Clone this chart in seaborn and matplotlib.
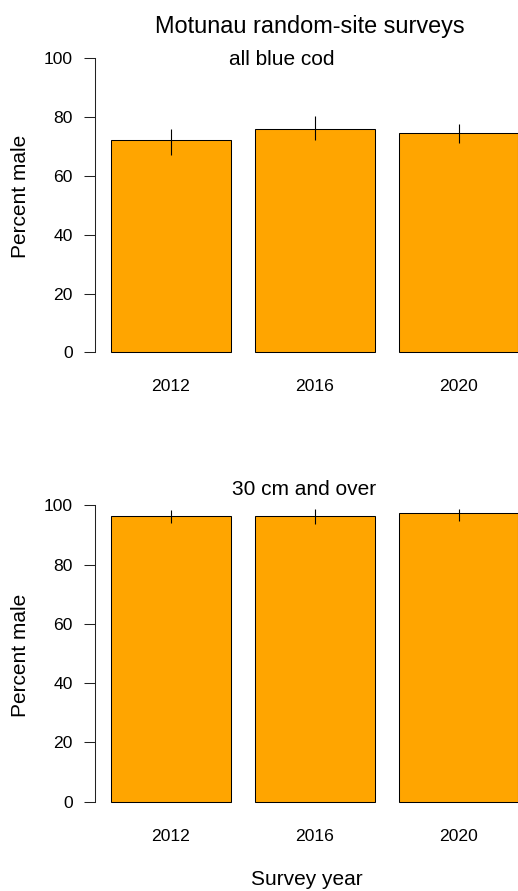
import matplotlib
matplotlib.use("Agg")
import matplotlib.pyplot as plt
import seaborn as sns
import pandas as pd

# Survey years and percent male (with 95% interval limits)
years = ["2012", "2016", "2020"]
all_pct = [72.1, 75.9, 74.5]
all_lo = [67.0, 72.3, 71.2]
all_hi = [76.0, 80.3, 77.6]

big_pct = [96.5, 96.5, 97.3]
big_lo = [94.0, 93.7, 94.7]
big_hi = [98.5, 98.9, 98.9]

yticks = [0, 20, 40, 60, 80, 100]

sns.set_theme(style="white")
plt.rcParams["font.family"] = ["Liberation Sans", "DejaVu Sans"]

W, H = 518, 891
fig = plt.figure(figsize=(W / 100, H / 100), dpi=100)


def px_axes(left, top, right, bottom):
    return fig.add_axes([left / W, 1 - bottom / H, (right - left) / W, (bottom - top) / H])


def panel(ax, pct, lo, hi):
    df = pd.DataFrame({"year": years, "pct": pct})
    sns.barplot(data=df, x="year", y="pct", ax=ax, color="#FFA500", saturation=1,
                edgecolor="black", linewidth=0.75, width=1 / 1.2, errorbar=None)
    xs = range(len(years))
    yerr = [[p - l for p, l in zip(pct, lo)], [h - p for p, h in zip(pct, hi)]]
    ax.errorbar(xs, pct, yerr=yerr, fmt="none", ecolor="black", elinewidth=0.8, capsize=0)
    ax.set_xlim(-0.53, 2.53)
    ax.set_ylim(-4, 104)
    ax.set_yticks(yticks)
    ax.set_yticklabels([str(t) for t in yticks])
    ax.set_xlabel("")
    ax.set_ylabel("")
    for s in ("top", "right", "bottom"):
        ax.spines[s].set_visible(False)
    ax.spines["left"].set_bounds(0, 100)
    ax.spines["left"].set_linewidth(0.75)
    ax.spines["left"].set_color("#222222")
    ax.tick_params(axis="y", left=True, length=7.7, width=0.75, color="#222222",
                   pad=8.1, labelsize=12.6, labelcolor="black")
    ax.tick_params(axis="x", bottom=False, length=0, pad=11, labelsize=12.6,
                   labelcolor="black")
    ax.set_facecolor("white")


ax1 = px_axes(94.8, 46.5, 534.7, 364.1)
panel(ax1, all_pct, all_lo, all_hi)
ax2 = px_axes(94.8, 493.4, 534.7, 813.6)
panel(ax2, big_pct, big_lo, big_hi)

fig.text(310 / W, 1 - 33 / H, "Motunau random-site surveys", ha="center",
         va="baseline", fontsize=16.9, color="black")
fig.text(281.5 / W, 1 - 65 / H, "all blue cod", ha="center", va="baseline",
         fontsize=15, color="black")
fig.text(304 / W, 1 - 495 / H, "30 cm and over", ha="center", va="baseline",
         fontsize=15, color="black")
fig.text(21 / W, 1 - 196.5 / H, "Percent male", ha="center", va="center",
         rotation=90, fontsize=15, color="black")
fig.text(21 / W, 1 - 655 / H, "Percent male", ha="center", va="center",
         rotation=90, fontsize=15, color="black")
fig.text(307 / W, 1 - 885 / H, "Survey year", ha="center", va="baseline",
         fontsize=15, color="black")

fig.savefig("out.png", dpi=100, facecolor="white")
